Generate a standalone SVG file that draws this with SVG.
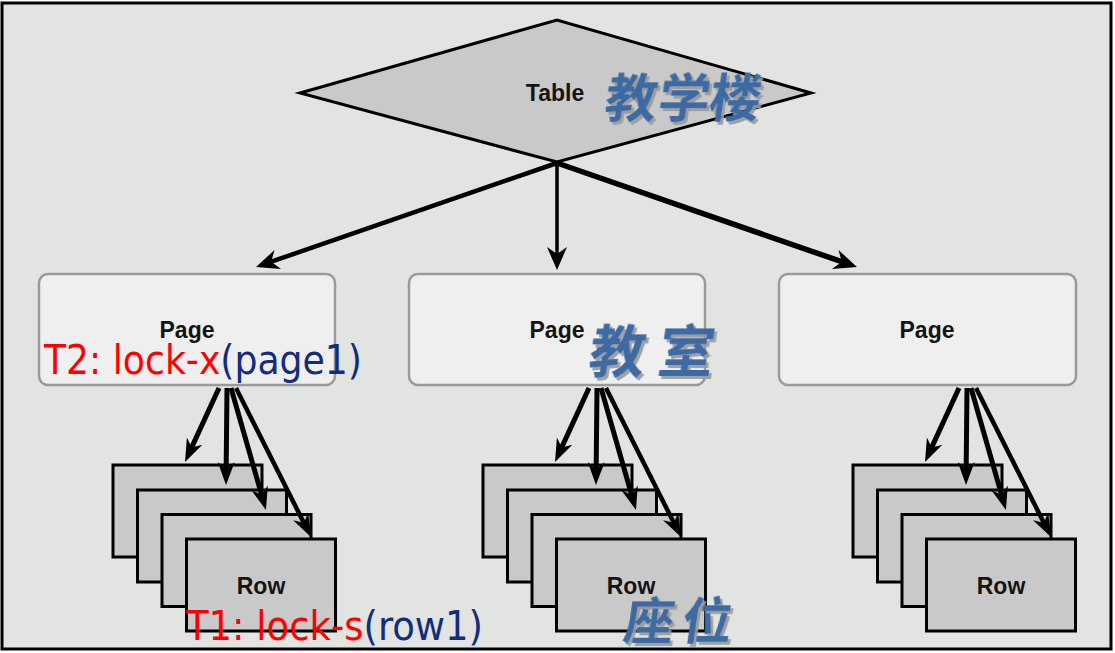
<svg xmlns="http://www.w3.org/2000/svg" width="1115" height="653" viewBox="0 0 1115 653">
<style>
.page{fill:#efefef;stroke:#9a9a9a;stroke-width:2.5}
.row{fill:#c9c9c9;stroke:#000;stroke-width:3}
.lbl{font-family:"Liberation Sans",Arial,sans-serif;font-weight:bold;font-size:23px;fill:#141414;text-anchor:middle}
.cn{font-family:"Noto Sans CJK SC",sans-serif;font-weight:600;fill:#3a6aa4;filter:url(#sh)}
.lk{font-family:"DejaVu Sans Condensed","DejaVu Sans",sans-serif;font-size:40px}
.red{fill:#ff0000}
.navy{fill:#142c7c}
.c{stroke:#000;fill:none}
</style>
<defs>
<marker id="ah" markerUnits="userSpaceOnUse" orient="auto" overflow="visible" markerWidth="1" markerHeight="1" refX="0" refY="0">
<path d="M10,0 L-13,-10 L-6,0 L-13,10 Z" fill="#000"/>
</marker>
<marker id="ah2" markerUnits="userSpaceOnUse" orient="auto" overflow="visible" markerWidth="1" markerHeight="1" refX="0" refY="0">
<path d="M10,0 L-13,-8.5 L-6,0 L-13,8.5 Z" fill="#000"/>
</marker>
<filter id="sh" x="-20%" y="-20%" width="140%" height="140%">
<feDropShadow dx="3" dy="3" stdDeviation="0.6" flood-color="#9a9a9a" flood-opacity="0.9"/>
</filter>
<g id="stack">
<rect class="row" x="113" y="465" width="149" height="92"/>
<rect class="row" x="137.5" y="490" width="149" height="92"/>
<rect class="row" x="162" y="514.5" width="149" height="92"/>
<rect class="row" x="186.5" y="539" width="149" height="92"/>
</g>
</defs>
<rect x="0" y="0" width="1115" height="653" fill="#ffffff"/>
<rect x="2" y="3" width="1109" height="646" fill="#e1e4e1" stroke="#000" stroke-width="3"/>

<g id="table">
<polygon points="300,93 557,20 811,93 557,162" fill="#c9c9c9" stroke="#000" stroke-width="3"/>
<text class="lbl" x="555" y="101">Table</text>
</g>

<g id="page1">
<rect class="page" x="39" y="274" width="296" height="111" rx="9"/>
<text class="lbl" x="187" y="338">Page</text>
</g>
<g id="page2">
<rect class="page" x="409" y="274" width="296" height="111" rx="9"/>
<text class="lbl" x="557" y="338">Page</text>
</g>
<g id="page3">
<rect class="page" x="779" y="274" width="297" height="111" rx="9"/>
<text class="lbl" x="927" y="338">Page</text>
</g>

<g id="rows1">
<use href="#stack"/>
<text class="lbl" x="261" y="594">Row</text>
</g>
<g id="rows2">
<use href="#stack" transform="translate(370,0)"/>
<text class="lbl" x="631" y="594">Row</text>
</g>
<g id="rows3">
<use href="#stack" transform="translate(740,0)"/>
<text class="lbl" x="1001" y="594">Row</text>
</g>

<g id="connectors">
<path class="c" d="M557,163 L265.5,263.7" stroke-width="4.5" marker-end="url(#ah)"/>
<path class="c" d="M557,163 L557,260" stroke-width="3.5" marker-end="url(#ah)"/>
<path class="c" d="M557,163 L847.5,263.7" stroke-width="5.5" marker-end="url(#ah)"/>
<g id="fan1">
<path class="c" d="M219,388 L189.2,452.9" stroke-width="5" marker-end="url(#ah2)"/>
<path class="c" d="M227,388 L226.1,475" stroke-width="5" marker-end="url(#ah2)"/>
<path class="c" d="M231,388 L263.2,500.4" stroke-width="5" marker-end="url(#ah2)"/>
<path class="c" d="M236,388 L306.5,528.1" stroke-width="4.5" marker-end="url(#ah2)"/>
</g>
<g id="fan2" transform="translate(370,0)">
<path class="c" d="M219,388 L189.2,452.9" stroke-width="5" marker-end="url(#ah2)"/>
<path class="c" d="M227,388 L226.1,475" stroke-width="5" marker-end="url(#ah2)"/>
<path class="c" d="M231,388 L263.2,500.4" stroke-width="5" marker-end="url(#ah2)"/>
<path class="c" d="M236,388 L306.5,528.1" stroke-width="4.5" marker-end="url(#ah2)"/>
</g>
<g id="fan3" transform="translate(740,0)">
<path class="c" d="M219,388 L189.2,452.9" stroke-width="5" marker-end="url(#ah2)"/>
<path class="c" d="M227,388 L226.1,475" stroke-width="5" marker-end="url(#ah2)"/>
<path class="c" d="M231,388 L263.2,500.4" stroke-width="5" marker-end="url(#ah2)"/>
<path class="c" d="M236,388 L306.5,528.1" stroke-width="4.5" marker-end="url(#ah2)"/>
</g>
</g>

<g id="notes">
<text class="cn" font-size="52" transform="translate(603,117) skewX(-8)"><tspan x="0">教</tspan><tspan x="53">学</tspan><tspan x="104">楼</tspan></text>
<text class="cn" font-size="56" transform="translate(587,372) skewX(-8)"><tspan x="0">教</tspan><tspan x="69">室</tspan></text>
<text class="cn" font-size="50" transform="translate(622,639) skewX(-8)"><tspan x="0">座</tspan><tspan x="58">位</tspan></text>
<text class="lk" x="44" y="374" textLength="318" lengthAdjust="spacingAndGlyphs"><tspan class="red">T2: lock-x</tspan><tspan class="navy">(page1)</tspan></text>
<text class="lk" x="186" y="640" textLength="297" lengthAdjust="spacingAndGlyphs"><tspan class="red">T1: lock-s</tspan><tspan class="navy">(row1)</tspan></text>
</g>
</svg>
